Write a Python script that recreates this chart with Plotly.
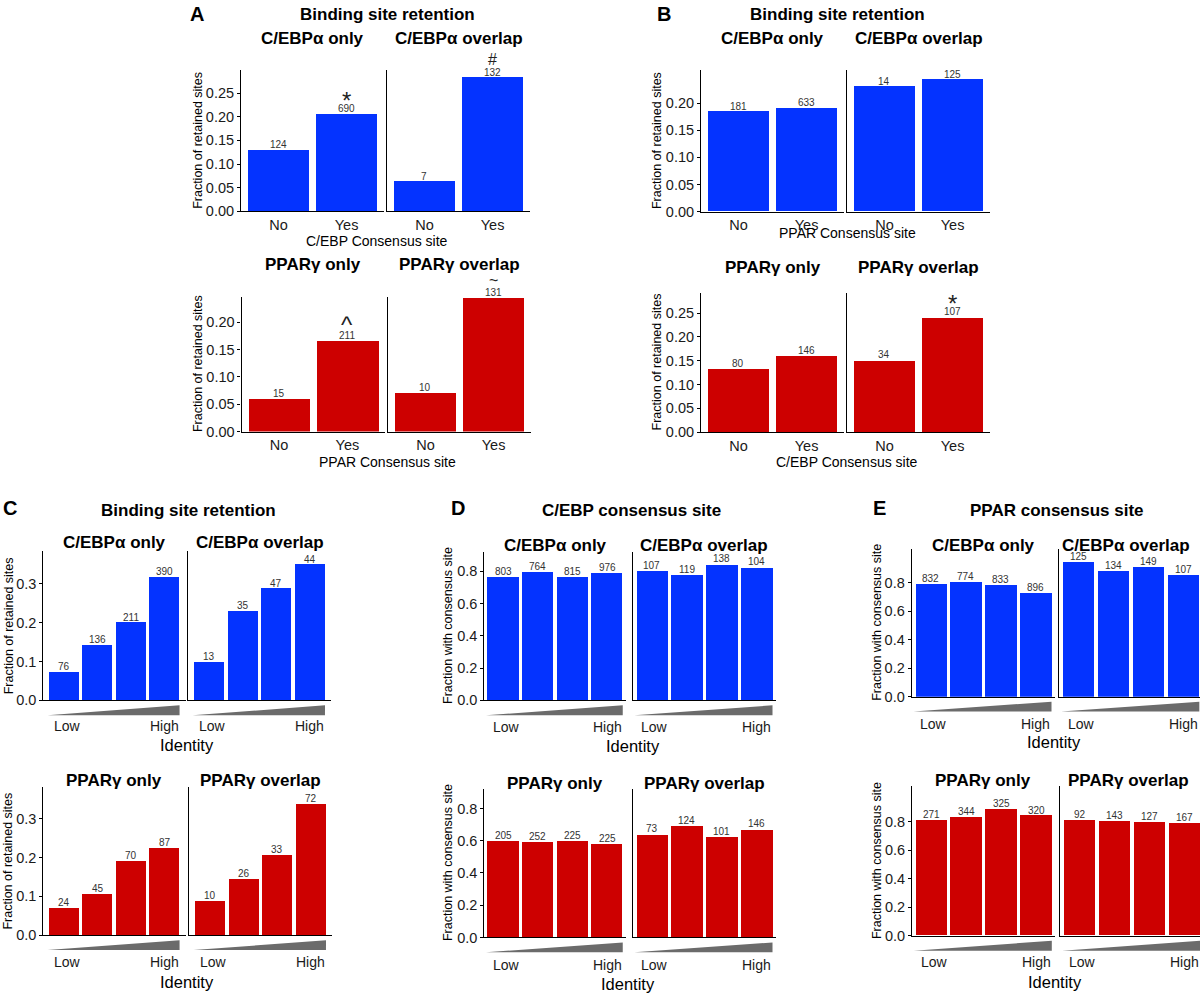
import plotly.graph_objects as go

W, H = 1200, 1004
FONT = "Liberation Sans, Arial, Helvetica, sans-serif"
BLUE = "#0433FF"
RED = "#CD0000"
WEDGE = "#6B6B6B"

# ---------------- data ----------------
consensus_levels = ["No", "Yes"]
identity_bins = ["Low", "Mid-low", "Mid-high", "High"]

# Panel A: fraction of retained sites by consensus site presence
A_cebp_only = [0.129, 0.205]
A_cebp_only_n = [124, 690]
A_cebp_only_sig = ["", "*"]
A_cebp_overlap = [0.063, 0.283]
A_cebp_overlap_n = [7, 132]
A_cebp_overlap_sig = ["", "#"]
A_ppar_only = [0.060, 0.166]
A_ppar_only_n = [15, 211]
A_ppar_only_sig = ["", "^"]
A_ppar_overlap = [0.071, 0.245]
A_ppar_overlap_n = [10, 131]
A_ppar_overlap_sig = ["", "~"]

# Panel B
B_cebp_only = [0.184, 0.190]
B_cebp_only_n = [181, 633]
B_cebp_overlap = [0.230, 0.243]
B_cebp_overlap_n = [14, 125]
B_ppar_only = [0.133, 0.161]
B_ppar_only_n = [80, 146]
B_ppar_overlap = [0.151, 0.241]
B_ppar_overlap_n = [34, 107]
B_ppar_overlap_sig = ["", "*"]

# Panel C: retention by identity
C_cebp_only = [0.073, 0.142, 0.200, 0.317]
C_cebp_only_n = [76, 136, 211, 390]
C_cebp_overlap = [0.099, 0.230, 0.287, 0.349]
C_cebp_overlap_n = [13, 35, 47, 44]
C_ppar_only = [0.071, 0.107, 0.190, 0.226]
C_ppar_only_n = [24, 45, 70, 87]
C_ppar_overlap = [0.088, 0.145, 0.206, 0.338]
C_ppar_overlap_n = [10, 26, 33, 72]

# Panel D: fraction with C/EBP consensus site
D_cebp_only = [0.765, 0.798, 0.765, 0.792]
D_cebp_only_n = [803, 764, 815, 976]
D_cebp_overlap = [0.804, 0.780, 0.843, 0.826]
D_cebp_overlap_n = [107, 119, 138, 104]
D_ppar_only = [0.601, 0.595, 0.601, 0.580]
D_ppar_only_n = [205, 252, 225, 225]
D_ppar_overlap = [0.640, 0.691, 0.626, 0.671]
D_ppar_overlap_n = [73, 124, 101, 146]

# Panel E: fraction with PPAR consensus site
E_cebp_only = [0.793, 0.807, 0.783, 0.728]
E_cebp_only_n = [832, 774, 833, 896]
E_cebp_overlap = [0.943, 0.879, 0.911, 0.851]
E_cebp_overlap_n = [125, 134, 149, 107]
E_ppar_only = [0.811, 0.830, 0.886, 0.842]
E_ppar_only_n = [271, 344, 325, 320]
E_ppar_overlap = [0.811, 0.804, 0.795, 0.788]
E_ppar_overlap_n = [92, 143, 127, 167]

ticks_A_top = [0.00, 0.05, 0.10, 0.15, 0.20, 0.25]
ticks_A_bot = [0.00, 0.05, 0.10, 0.15, 0.20]
ticks_B_top = [0.00, 0.05, 0.10, 0.15, 0.20]
ticks_B_bot = [0.00, 0.05, 0.10, 0.15, 0.20, 0.25]
ticks_C = [0.0, 0.1, 0.2, 0.3]
ticks_DE = [0.0, 0.2, 0.4, 0.6, 0.8]

NONE2 = ["", ""]
NONE4 = ["", "", "", ""]

# ---------------- helpers ----------------
fig = go.Figure()
annotations = []
shapes = []
axis_count = [0]

SIG_STYLE = {"*": (24, 14), "#": (16, 18), "^": (24, 16), "~": (16, 17)}


def P(x):
    return x / W


def Q(y):
    return 1 - y / H


def text(x, y, s, size, bold=False, color="#000000", angle=0):
    annotations.append(dict(
        x=P(x), y=Q(y), xref="paper", yref="paper",
        text=f"<b>{s}</b>" if bold else s, showarrow=False,
        font=dict(family=FONT, size=size, color=color), textangle=angle,
        xanchor="center", yanchor="middle"))


def add_pair(cats, facets, xpx, ypx, ymax, ytickvals, yfmt, pad, color,
             ytitle, ytitle_x, strip_y, identity=None, strip_x=None):
    top, base = ypx
    n = len(cats)
    pos = list(range(n))
    for j, (strip, vals, counts, sig) in enumerate(facets):
        axis_count[0] += 1
        k = axis_count[0]
        xs = "" if k == 1 else str(k)
        x0, x1_full = xpx[j]
        x1 = x1_full
        r0, r1 = -0.45 - pad, n - 0.55 + pad
        if x1 > W:
            r1 = r0 + (r1 - r0) * (W - x0) / (x1 - x0)
            x1 = W
        fig.add_trace(go.Bar(
            x=pos, y=vals, width=0.9,
            marker=dict(color=color, line=dict(width=0)),
            xaxis="x" + xs, yaxis="y" + xs, showlegend=False, hoverinfo="skip"))
        xa = dict(domain=[P(x0), P(x1)], anchor="y" + xs, range=[r0, r1],
                  showline=True, linecolor="black", linewidth=1.1,
                  showgrid=False, zeroline=False, fixedrange=True)
        if identity is None:
            xa.update(tickmode="array", tickvals=pos, ticktext=cats, ticks="",
                      tickfont=dict(family=FONT, size=14.5, color="#1a1a1a"))
        else:
            xa.update(showticklabels=False, ticks="")
        ya = dict(domain=[Q(base), Q(top)], anchor="x" + xs, range=[0, ymax],
                  showline=True, linecolor="black", linewidth=1.1,
                  showgrid=False, zeroline=False, fixedrange=True)
        if j == 0:
            ya.update(tickmode="array", tickvals=ytickvals,
                      ticktext=[yfmt.format(v) for v in ytickvals],
                      ticks="outside", ticklen=3, tickcolor="black",
                      tickfont=dict(family=FONT, size=14.5, color="#1a1a1a"))
        else:
            ya.update(showticklabels=False, ticks="")
        fig.update_layout(**{"xaxis" + xs: xa, "yaxis" + xs: ya})

        sx = strip_x[j] if strip_x else (x0 + x1_full) / 2
        text(sx, strip_y, strip, 17, bold=True)

        for i, (v, c) in enumerate(zip(vals, counts)):
            annotations.append(dict(
                x=i, y=v, xref="x" + xs, yref="y" + xs, text=str(c),
                showarrow=False, yanchor="bottom", yshift=-2,
                font=dict(family=FONT, size=10, color="#333333")))
        for i, (v, s) in enumerate(zip(vals, sig)):
            if s:
                size, shift = SIG_STYLE[s]
                annotations.append(dict(
                    x=i, y=v, xref="x" + xs, yref="y" + xs, text=s,
                    showarrow=False, yanchor="middle", yshift=shift,
                    font=dict(family=FONT, size=size, color="#222222")))

        if identity is not None:
            lowhigh_y = identity["lowhigh_y"]
            annotations.append(dict(
                x=0, y=Q(lowhigh_y), xref="x" + xs, yref="paper", text=cats[0],
                showarrow=False, xanchor="center", yanchor="middle", xshift=3,
                font=dict(family=FONT, size=14, color="#1a1a1a")))
            annotations.append(dict(
                x=n - 1, y=Q(lowhigh_y), xref="x" + xs, yref="paper", text=cats[-1],
                showarrow=False, xanchor="center", yanchor="middle",
                font=dict(family=FONT, size=14, color="#1a1a1a")))
            xl, xr = -0.5, n - 0.55
            yb, yt = Q(base + 15), Q(base + 5)
            shapes.append(dict(
                type="path", xref="x" + xs, yref="paper",
                path=f"M {xl},{yb} L {xr},{yb} L {xr},{yt} Z",
                fillcolor=WEDGE, line=dict(width=0), layer="above"))

    text(ytitle_x, (top + base) / 2, ytitle, 12.5, angle=-90)
    if identity is not None:
        ix, iy = identity["title_xy"]
        text(ix, iy, "Identity", 16.5)


# ---------------- panels ----------------
RET = "Fraction of retained sites"
CONS = "Fraction with consensus site"

# A
add_pair(consensus_levels,
         [("C/EBPα only", A_cebp_only, A_cebp_only_n, A_cebp_only_sig),
          ("C/EBPα overlap", A_cebp_overlap, A_cebp_overlap_n, A_cebp_overlap_sig)],
         [(241, 384), (387, 530)], (71, 213), 0.298, ticks_A_top, "{:.2f}", 0.1, BLUE,
         RET, 198, 39)
text(377, 243, "C/EBP Consensus site", 14)
add_pair(consensus_levels,
         [("PPARγ only", A_ppar_only, A_ppar_only_n, A_ppar_only_sig),
          ("PPARγ overlap", A_ppar_overlap, A_ppar_overlap_n, A_ppar_overlap_sig)],
         [(241.5, 385), (388, 531)], (299, 435), 0.247, ticks_A_bot, "{:.2f}", 0.1, RED,
         RET, 198, 267)
text(388, 466, "PPAR Consensus site", 14)
text(387, 15, "Binding site retention", 17, bold=True)
text(197, 14, "A", 20, bold=True)

# B
add_pair(consensus_levels,
         [("C/EBPα only", B_cebp_only, B_cebp_only_n, NONE2),
          ("C/EBPα overlap", B_cebp_overlap, B_cebp_overlap_n, NONE2)],
         [(701, 844), (847, 990)], (71, 213.3), 0.26, ticks_B_top, "{:.2f}", 0.1, BLUE,
         RET, 657, 39)
text(847, 235, "PPAR Consensus site", 14)
add_pair(consensus_levels,
         [("PPARγ only", B_ppar_only, B_ppar_only_n, NONE2),
          ("PPARγ overlap", B_ppar_overlap, B_ppar_overlap_n, B_ppar_overlap_sig)],
         [(701, 844), (847, 990)], (295, 435.7), 0.293, ticks_B_bot, "{:.2f}", 0.1, RED,
         RET, 657, 270)
text(847, 466, "C/EBP Consensus site", 14)
text(837, 15, "Binding site retention", 17, bold=True)
text(664, 14, "B", 20, bold=True)

# C
add_pair(identity_bins,
         [("C/EBPα only", C_cebp_only, C_cebp_only_n, NONE4),
          ("C/EBPα overlap", C_cebp_overlap, C_cebp_overlap_n, NONE4)],
         [(43.3, 185.6), (188.3, 331)], (555.7, 706), 0.383, ticks_C, "{:.1f}", 0.18, BLUE,
         RET, 8.5, 547, identity=dict(lowhigh_y=731.7, title_xy=(187, 751)))
add_pair(identity_bins,
         [("PPARγ only", C_ppar_only, C_ppar_only_n, NONE4),
          ("PPARγ overlap", C_ppar_overlap, C_ppar_overlap_n, NONE4)],
         [(43.3, 185.6), (189.3, 332)], (793.3, 942.7), 0.382, ticks_C, "{:.1f}", 0.18, RED,
         RET, 8.5, 787, identity=dict(lowhigh_y=969.5, title_xy=(187, 989.5)))
text(188, 515, "Binding site retention", 17, bold=True)
text(10, 512, "C", 20, bold=True)

# D
add_pair(identity_bins,
         [("C/EBPα only", D_cebp_only, D_cebp_only_n, NONE4),
          ("C/EBPα overlap", D_cebp_overlap, D_cebp_overlap_n, NONE4)],
         [(484.3, 626.2), (632.7, 776)], (556, 706), 0.923, ticks_DE, "{:.1f}", 0.1, BLUE,
         CONS, 448, 550, identity=dict(lowhigh_y=733, title_xy=(633, 752)))
add_pair(identity_bins,
         [("PPARγ only", D_ppar_only, D_ppar_only_n, NONE4),
          ("PPARγ overlap", D_ppar_overlap, D_ppar_overlap_n, NONE4)],
         [(484.3, 626.2), (632.7, 776)], (795, 945), 0.923, ticks_DE, "{:.1f}", 0.1, RED,
         CONS, 448, 790, identity=dict(lowhigh_y=973, title_xy=(628, 992)))
text(631, 515, "C/EBP consensus site", 17, bold=True)
text(458, 512, "D", 20, bold=True)

# E
add_pair(identity_bins,
         [("C/EBPα only", E_cebp_only, E_cebp_only_n, NONE4),
          ("C/EBPα overlap", E_cebp_overlap, E_cebp_overlap_n, NONE4)],
         [(911.7, 1055), (1059.3, 1202.8)], (553.3, 702.3), 1.036, ticks_DE, "{:.1f}", 0.1, BLUE,
         CONS, 877, 550, identity=dict(lowhigh_y=730, title_xy=(1054, 748)),
         strip_x=(983, 1126))
add_pair(identity_bins,
         [("PPARγ only", E_ppar_only, E_ppar_only_n, NONE4),
          ("PPARγ overlap", E_ppar_overlap, E_ppar_overlap_n, NONE4)],
         [(912, 1055.3), (1060.3, 1203.8)], (792.7, 943.3), 1.048, ticks_DE, "{:.1f}", 0.1, RED,
         CONS, 877, 787, identity=dict(lowhigh_y=970, title_xy=(1055, 990)),
         strip_x=(983, 1128))
text(1057, 515, "PPAR consensus site", 17, bold=True)
text(879, 512, "E", 20, bold=True)

fig.update_layout(
    width=W, height=H, autosize=False,
    margin=dict(l=0, r=0, t=0, b=0),
    paper_bgcolor="white", plot_bgcolor="white",
    bargap=0, showlegend=False,
    font=dict(family=FONT, color="#000000"),
    annotations=annotations, shapes=shapes,
)

fig.write_html(
    "out.html",
    config={"displayModeBar": False},
    post_script="document.body.style.margin='0px';document.body.style.overflow='hidden';",
)
